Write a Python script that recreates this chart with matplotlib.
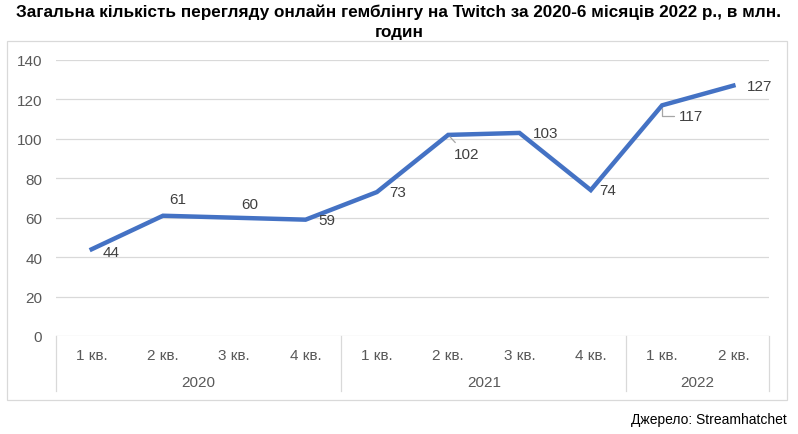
import matplotlib.pyplot as plt
from matplotlib.patches import Rectangle
from matplotlib.transforms import blended_transform_factory

plt.rcParams['font.family'] = ['Liberation Sans', 'DejaVu Sans']

quarters = ['1 кв.', '2 кв.', '3 кв.', '4 кв.',
            '1 кв.', '2 кв.', '3 кв.', '4 кв.',
            '1 кв.', '2 кв.']
years = ['2020', '2021', '2022']
year_sizes = [4, 4, 2]
hours = [44, 61, 60, 59, 73, 102, 103, 74, 117, 127]

# label offsets in points (dx, dy) for each data label
offsets = [(14, -2), (11, 12), (11, 10), (15, 0), (15, 0),
           (13, -14), (19, 0), (12, 0), (21, -8), (19, 0)]
leaders = {5: 'arc3,rad=0', 8: 'angle,angleA=0,angleB=90,rad=0'}

fig = plt.figure(figsize=(7.98, 4.35), dpi=100)
ax = fig.add_axes([0.0702, 0.2253, 0.8935, 0.6345])

x = list(range(len(hours)))
ax.plot(x, hours, color='#4472C4', linewidth=3.2, solid_joinstyle='miter')

for i, v in enumerate(hours):
    dx, dy = offsets[i]
    arrow = None
    if i in leaders:
        arrow = dict(arrowstyle='-', color='#A6A6A6', lw=0.9, shrinkA=2, shrinkB=2,
                     connectionstyle=leaders[i])
    ax.annotate(str(v), (i, v), xytext=(dx, dy), textcoords='offset points',
                ha='center', va='center', fontsize=11, color='#404040',
                arrowprops=arrow)

ax.set_xlim(-0.5, 9.5)
ax.set_ylim(0, 140)
ax.set_yticks(range(0, 141, 20))
ax.set_xticks(x)
ax.set_xticklabels(quarters)
ax.tick_params(axis='x', length=0, pad=9, labelsize=11, labelcolor='#595959')
ax.tick_params(axis='y', length=0, pad=10, labelsize=11, labelcolor='#595959')
ax.grid(axis='y', color='#D9D9D9', linewidth=0.9)
ax.set_axisbelow(True)
for s in ax.spines.values():
    s.set_visible(False)

# year level of the category axis
tr = blended_transform_factory(ax.transData, ax.transAxes)
start = -0.5
bounds = [start]
for name, n in zip(years, year_sizes):
    ax.text(start + n / 2, -0.165, name, transform=tr, ha='center', va='center',
            fontsize=11, color='#595959')
    start += n
    bounds.append(start)
for b in bounds:
    ax.plot([b, b], [0, -0.2], transform=tr, color='#D9D9D9', lw=0.9, clip_on=False)

# outer chart border
fig.patches.append(Rectangle((7 / 798, 1 - 401 / 435), 780 / 798, 359 / 435,
                             transform=fig.transFigure, fill=False,
                             edgecolor='#D9D9D9', lw=0.9))

fig.text(0.5, 1 - 5 / 435, 'Загальна кількість перегляду онлайн гемблінгу на Twitch за 2020-6 місяців 2022 р., в млн.\nгодин',
         ha='center', va='top', fontsize=12.3, fontweight='bold', linespacing=1.4)
fig.text(787 / 798, 1 - 420 / 435, 'Джерело: Streamhatchet', ha='right', va='center',
         fontsize=10, color='black')

fig.savefig('out.png', dpi=100)
